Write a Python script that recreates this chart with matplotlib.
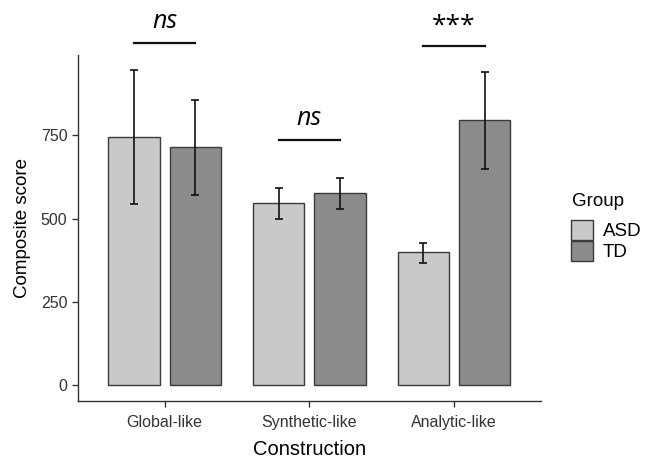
import numpy as np
import matplotlib
matplotlib.use("Agg")
import matplotlib.pyplot as plt
from matplotlib.patches import Patch

# ---- DATA ---- #
categories = ["Global-like", "Synthetic-like", "Analytic-like"]
groups = ["ASD", "TD"]
asd_mean = [746, 546, 400]
td_mean = [715, 577, 797]
asd_lo = [545, 498, 368]
asd_hi = [946, 593, 428]
td_lo = [571, 529, 650]
td_hi = [857, 622, 942]
sig_labels = ["ns", "ns", "***"]
sig_heights = [1027, 735, 1020]
yticks = [0, 250, 500, 750]

# ---- STYLE ---- #
plt.rcParams['font.family'] = ['Liberation Sans', 'DejaVu Sans']
col_asd = "#c9c9c9"
col_td = "#8b8b8b"
edge = "#3a3a3a"
width = 0.355
offset = 0.212

fig = plt.figure(figsize=(6.46, 4.58), dpi=100)
ax = fig.add_axes([0.1203, 0.1245, 0.7167, 0.7555])

x = np.arange(1, len(categories) + 1)
for vals, lo, hi, col, sgn in [(asd_mean, asd_lo, asd_hi, col_asd, -1),
                               (td_mean, td_lo, td_hi, col_td, 1)]:
    xs = x + sgn * offset
    ax.bar(xs, vals, width=width, color=col, edgecolor=edge, linewidth=1.0, zorder=2)
    vals = np.array(vals)
    err = [vals - np.array(lo), np.array(hi) - vals]
    ax.errorbar(xs, vals, yerr=err, fmt="none", ecolor="#111111",
                elinewidth=1.2, capsize=2.6, capthick=1.2, zorder=3)

# significance bars
for xi, lab, h in zip(x, sig_labels, sig_heights):
    ax.plot([xi - offset, xi + offset], [h, h], color="#111111", lw=1.6,
            clip_on=False, zorder=4)
    if lab == "ns":
        ax.text(xi, h + 28, lab, ha="center", va="bottom", fontsize=18,
                style="italic", family=["Open Sans", "DejaVu Sans"], clip_on=False)
    else:
        ax.text(xi, h + 22, lab, ha="center", va="bottom", fontsize=19,
                family=["Open Sans", "DejaVu Sans"], clip_on=False)

ax.set_xlim(0.4, 3.6)
ax.set_ylim(-48, 992)
ax.set_xticks(x)
ax.set_xticklabels(categories, fontsize=11.5, color="#333333")
ax.set_yticks(yticks)
ax.set_yticklabels([str(t) for t in yticks], fontsize=11.5, color="#333333")
ax.tick_params(axis="both", direction="out", length=4, width=1, color="#333333")
ax.tick_params(axis="x", pad=6)

for s in ["top", "right"]:
    ax.spines[s].set_visible(False)
for s in ["left", "bottom"]:
    ax.spines[s].set_color("#333333")
    ax.spines[s].set_linewidth(1.0)

ax.set_xlabel("Construction", fontsize=14.5, labelpad=7)
ax.set_ylabel("Composite score", fontsize=13.5, labelpad=7)

handles = [Patch(facecolor=col_asd, edgecolor=edge, linewidth=1.0),
           Patch(facecolor=col_td, edgecolor=edge, linewidth=1.0)]
fig.text(572 / 646, 1 - 202 / 458, "Group", fontsize=13.5, ha="left", va="center")
leg = fig.legend(handles, groups, loc="upper left",
                 bbox_to_anchor=(571 / 646, 1 - 220 / 458), frameon=False,
                 fontsize=13.5, handlelength=1.15, handleheight=1.3,
                 handletextpad=0.55, labelspacing=0.0, borderpad=0.0,
                 borderaxespad=0.0)

fig.savefig("out.png", dpi=100)
